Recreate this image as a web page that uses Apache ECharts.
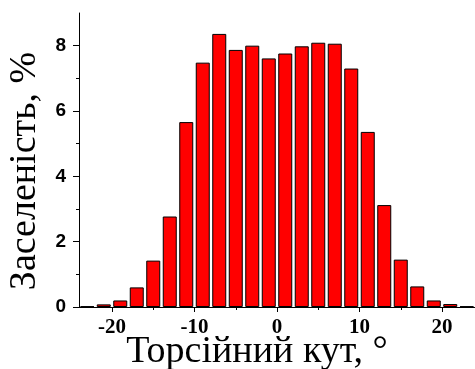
<!DOCTYPE html>
<html>
<head>
<meta charset="utf-8">
<script src="https://cdn.jsdelivr.net/npm/echarts@6/dist/echarts.min.js"></script>
<style>html,body{margin:0;padding:0;background:#fff}#c{width:475px;height:369px}</style>
</head>
<body>
<div id="c"></div>
<script>
const binCenters = [-23,-21,-19,-17,-15,-13,-11,-9,-7,-5,-3,-1,1,3,5,7,9,11,13,15,17,19,21,23];
const population = [0.02,0.08,0.2,0.6,1.42,2.77,5.66,7.48,8.36,7.87,8.0,7.61,7.76,7.98,8.09,8.06,7.3,5.36,3.12,1.45,0.63,0.2,0.09,0.02];
const xTicks = [-20, -10, 0, 10, 20];
const yTicks = [0, 2, 4, 6, 8];
const xName = 'Торсійний кут, °';
const yName = 'Заселеність, %';

const chart = echarts.init(document.getElementById('c'), null, {renderer: 'canvas'});
chart.setOption({
  animation: false,
  backgroundColor: '#fff',
  grid: {left: 79, right: 0, top: 13, bottom: 62, containLabel: false, outerBoundsMode: 'none'},
  xAxis: {
    type: 'value', min: -24, max: 24,
    name: xName, nameLocation: 'middle', nameGap: 26, nameMoveOverlap: false,
    nameTextStyle: {fontFamily: 'Liberation Serif', fontSize: 38, color: '#000', padding: [0, 40, 0, 0]},
    axisLine: {show: true, onZero: false, lineStyle: {color: '#000', width: 1}},
    axisTick: {show: true, length: 5, customValues: xTicks, lineStyle: {color: '#000'}},
    minorTick: {show: true, splitNumber: 2, length: 3, lineStyle: {color: '#000'}},
    splitLine: {show: false},
    axisLabel: {customValues: xTicks, margin: 10, fontFamily: 'Liberation Serif', fontWeight: 'bold', fontSize: 21, color: '#000'}
  },
  yAxis: {
    type: 'value', min: 0, max: 9, interval: 2,
    name: yName, nameLocation: 'middle', nameGap: 35, nameRotate: 90, nameMoveOverlap: false,
    nameTextStyle: {fontFamily: 'Liberation Serif', fontSize: 38, color: '#000', padding: [0, 22, 0, 0]},
    axisLine: {show: true, onZero: false, lineStyle: {color: '#000', width: 1}},
    axisTick: {show: true, length: 6, customValues: yTicks, lineStyle: {color: '#000'}},
    minorTick: {show: true, splitNumber: 2, length: 3, lineStyle: {color: '#000'}},
    splitLine: {show: false},
    axisLabel: {customValues: yTicks, margin: 13, fontFamily: 'Liberation Sans', fontWeight: 'bold', fontSize: 19, color: '#000'}
  },
  series: [{
    type: 'bar',
    data: binCenters.map((x, i) => [x, population[i]]),
    barWidth: 14,
    itemStyle: {color: '#ff0000', borderColor: '#000', borderWidth: 1}
  }]
});
</script>
</body>
</html>
